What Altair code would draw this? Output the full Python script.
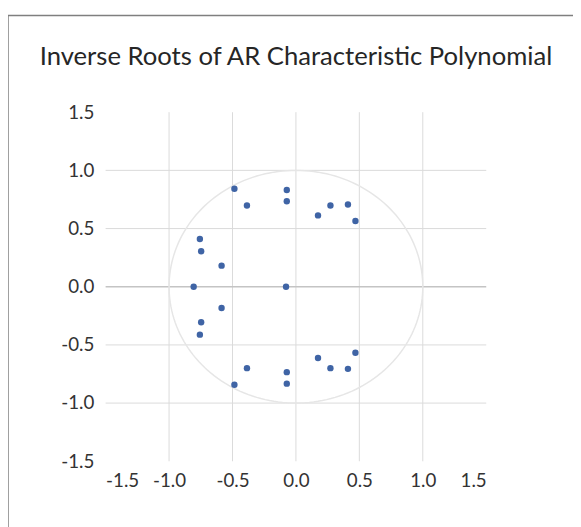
import altair as alt
import pandas as pd

re_parts = [-0.485, -0.386, -0.072, -0.072, -0.757, -0.747, -0.586, -0.806, -0.078,
            0.174, 0.272, 0.410, 0.469,
            -0.485, -0.386, -0.072, -0.072, -0.757, -0.747, -0.586,
            0.174, 0.272, 0.410, 0.469]
im_parts = [0.842, 0.698, 0.831, 0.735, 0.410, 0.305, 0.181, 0.0, 0.0,
            0.613, 0.698, 0.707, 0.565,
            -0.842, -0.700, -0.833, -0.734, -0.412, -0.305, -0.183,
            -0.613, -0.700, -0.706, -0.568]

tick_values = [-1.5, -1.0, -0.5, 0.0, 0.5, 1.0, 1.5]
v_grid = [-1.0, -0.5, 0.0, 0.5, 1.0]
h_grid = [-1.0, -0.5, 0.5, 1.0]
axis_zero = [0.0]

pts = pd.DataFrame({"re": re_parts, "im": im_parts})

xs = alt.Scale(domain=[-1.5, 1.5], nice=False, zero=False)
ys = alt.Scale(domain=[-1.5, 1.5], nice=False, zero=False)

lab = "replace(format(datum.value, '.1f'), '\u2212', '-')"

xaxis = alt.Axis(values=tick_values, labelExpr=lab, title=None, grid=False, domain=False,
                 ticks=False, tickSize=0, labelPadding=11, labelFontSize=19,
                 labelFont="Lato", labelColor="#333333")
yaxis = alt.Axis(values=tick_values, labelExpr=lab, title=None, grid=False, domain=False,
                 ticks=False, tickSize=0, labelPadding=12, labelFontSize=19,
                 labelFont="Lato", labelColor="#333333")

frame = alt.Chart(pd.DataFrame({"a": [0]})).mark_rect(
    fill=None, stroke="#7f7f7f", strokeWidth=1.5, clip=False
).encode(x=alt.value(-99), x2=alt.value(600), y=alt.value(-98), y2=alt.value(600))

vg = alt.Chart(pd.DataFrame({"x": v_grid, "lo": -1.5, "hi": 1.5})).mark_rule(
    color="#dadada", strokeWidth=1
).encode(x=alt.X("x:Q", scale=xs, axis=xaxis), y=alt.Y("lo:Q", scale=ys, axis=yaxis), y2="hi:Q")

hg = alt.Chart(pd.DataFrame({"y": h_grid, "lo": -1.5, "hi": 1.5})).mark_rule(
    color="#dadada", strokeWidth=1
).encode(y=alt.Y("y:Q", scale=ys), x=alt.X("lo:Q", scale=xs), x2="hi:Q")

zl = alt.Chart(pd.DataFrame({"y": axis_zero, "lo": -1.5, "hi": 1.5})).mark_rule(
    color="#c4c4c4", strokeWidth=1.5
).encode(y=alt.Y("y:Q", scale=ys), x=alt.X("lo:Q", scale=xs), x2="hi:Q")

circle = alt.Chart(alt.sequence(0, 361, 2, as_="t")).transform_calculate(
    cx="cos(datum.t * PI / 180)", cy="sin(datum.t * PI / 180)"
).mark_line(color="#e6e6e6", strokeWidth=1.5).encode(
    x=alt.X("cx:Q", scale=xs), y=alt.Y("cy:Q", scale=ys), order="t:Q"
)

dots = alt.Chart(pts).mark_circle(size=42, opacity=1, color="#3f64a5").encode(
    x=alt.X("re:Q", scale=xs), y=alt.Y("im:Q", scale=ys)
)

chart = alt.layer(frame, vg, hg, zl, circle, dots).properties(
    width=386, height=354,
    title=alt.TitleParams("Inverse Roots of AR Characteristic Polynomial",
                          font="Lato", fontSize=26, fontWeight="normal",
                          color="#262626", anchor="middle", offset=0,
                          baseline="alphabetic", dy=77),
    padding={"left": 99, "top": 102, "right": 88, "bottom": 63},
    autosize=alt.AutoSizeParams(type="none"),
    background="white",
).configure_view(stroke=None)

chart.save("out.html", embed_options={"renderer": "svg", "actions": False})
